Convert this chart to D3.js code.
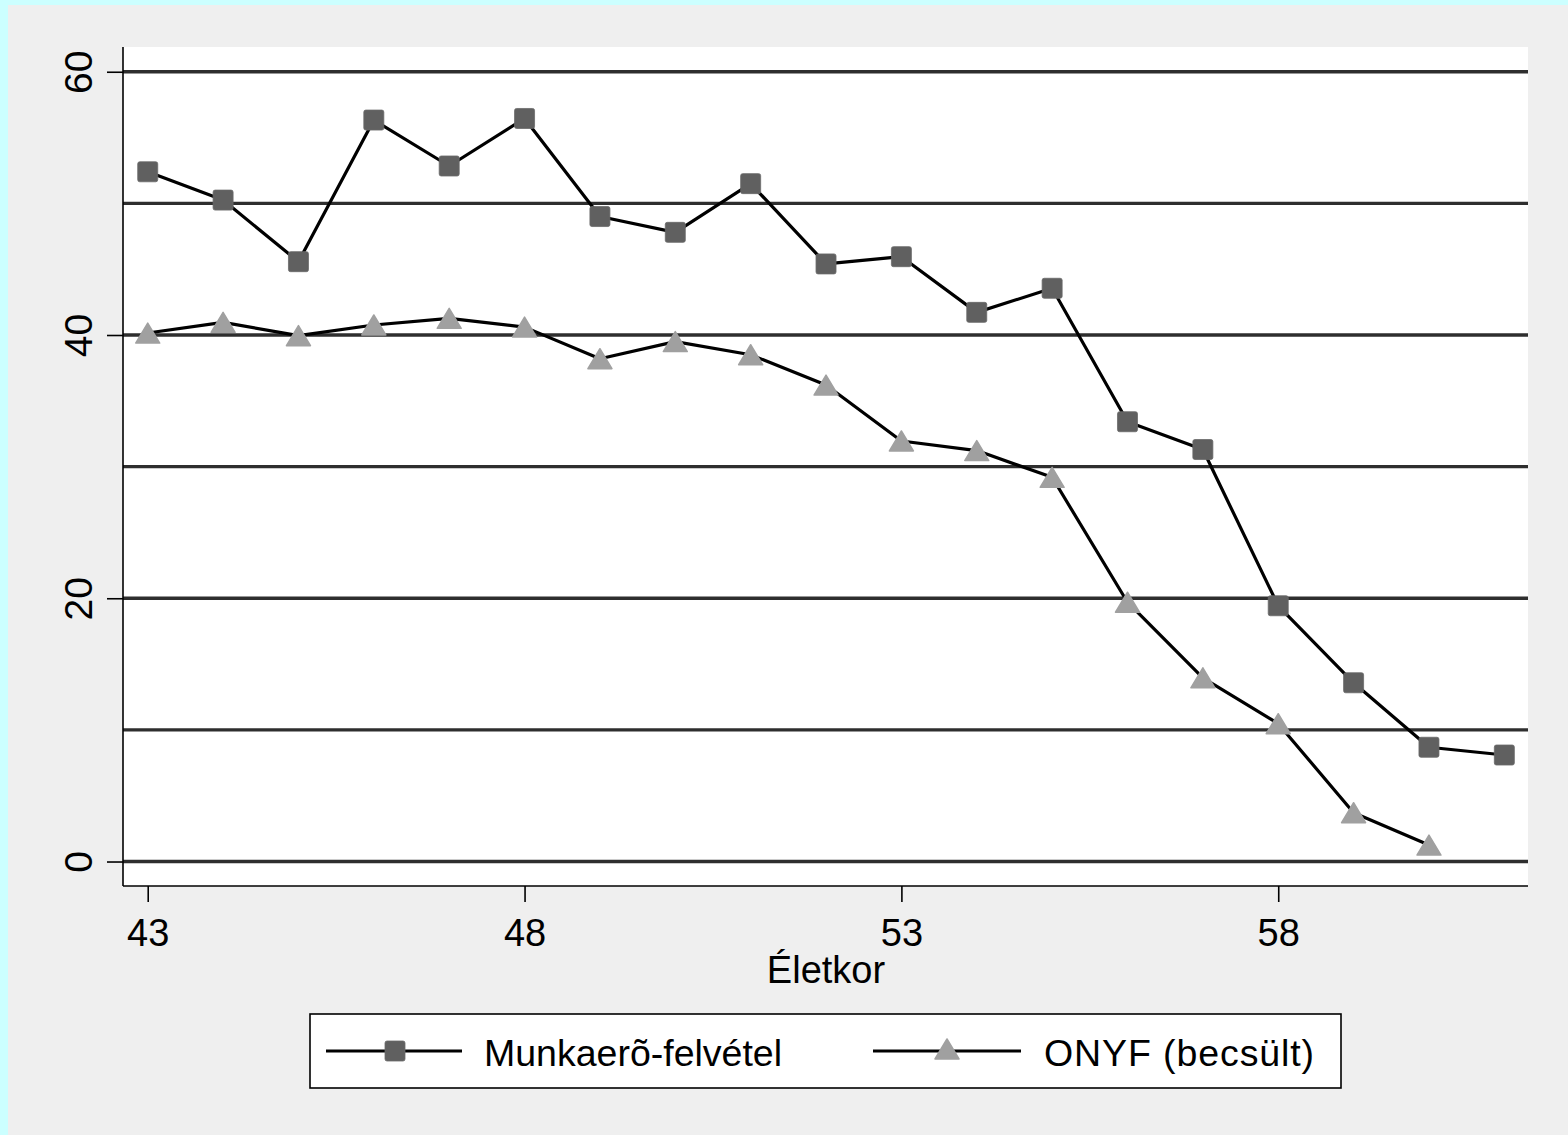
<!DOCTYPE html>
<html>
<head>
<meta charset="utf-8">
<script src="https://cdn.jsdelivr.net/npm/d3@7"></script>
<style>
  html, body { margin: 0; padding: 0; background: #ccffff; }
  svg { display: block; }
  text { font-family: "Liberation Sans", Arial, sans-serif; fill: #000; }
</style>
</head>
<body>
<script>
const ages = [43,44,45,46,47,48,49,50,51,52,53,54,55,56,57,58,59,60,61];
const munkaero = [52.4,50.25,45.57,56.33,52.84,56.45,49.0,47.8,51.5,45.4,45.95,41.72,43.55,33.41,31.3,19.43,13.58,8.68,8.09];
const onyfAges = [43,44,45,46,47,48,49,50,51,52,53,54,55,56,57,58,59,60];
const onyf = [40.15,40.96,39.95,40.76,41.27,40.6,38.2,39.5,38.5,36.2,31.95,31.22,29.19,19.7,13.96,10.47,3.71,1.25];
const xTicks = [43,48,53,58];
const yTicks = [0,20,40,60];
const gridVals = [0,10,20,30,40,50,60];
const seriesNames = ["Munkaerõ-felvétel", "ONYF (becsült)"];
const xLabel = "Életkor";

const W = 1568, H = 1135;
const svg = d3.select("body").append("svg").attr("width", W).attr("height", H);

svg.append("rect").attr("x", 0).attr("y", 0).attr("width", W).attr("height", H).attr("fill", "#ccffff");
svg.append("rect").attr("x", 8).attr("y", 5).attr("width", W - 8).attr("height", H - 5).attr("fill", "#efefef");

const L = 123, R = 1528, T = 47, B = 886;
const x = d3.scaleLinear().domain([42.672, 61.314]).range([L, R]);
const y = d3.scaleLinear().domain([-1.86, 61.88]).range([B, T]);

svg.append("rect").attr("x", L).attr("y", T).attr("width", R - L).attr("height", B - T).attr("fill", "#fff");

svg.append("g").selectAll("line").data(gridVals).join("line")
  .attr("x1", L).attr("x2", R)
  .attr("y1", d => y(d)).attr("y2", d => y(d))
  .attr("stroke", "#2e2e2e").attr("stroke-width", 3.3);

const yAxis = d3.axisLeft(y).tickValues(yTicks).tickSize(16).tickPadding(0).tickFormat(d3.format("d"));
const gy = svg.append("g").attr("transform", `translate(${L},0)`).call(yAxis);
gy.select(".domain").attr("stroke", "#000").attr("stroke-width", 1.6).attr("d", `M0,${B}V${T}`);
gy.selectAll(".tick line").attr("stroke", "#000").attr("stroke-width", 1.6);
gy.selectAll(".tick text").remove();
gy.selectAll(".tick").append("text")
  .attr("transform", "translate(-31,0) rotate(-90)")
  .attr("text-anchor", "middle")
  .style("font-size", "39px")
  .style("font-family", '"Liberation Sans", Arial, sans-serif')
  .attr("fill", "#000")
  .text(d => d);

const xAxis = d3.axisBottom(x).tickValues(xTicks).tickSize(16).tickPadding(0).tickFormat(d3.format("d"));
const gx = svg.append("g").attr("transform", `translate(0,${B})`).call(xAxis);
gx.select(".domain").attr("stroke", "#000").attr("stroke-width", 1.6).attr("d", `M${L},0H${R}`);
gx.selectAll(".tick line").attr("stroke", "#000").attr("stroke-width", 1.6);
gx.selectAll(".tick text")
  .attr("y", 60).attr("dy", 0)
  .style("font-size", "38px")
  .style("font-family", '"Liberation Sans", Arial, sans-serif')
  .attr("fill", "#000");

svg.append("text").attr("x", 826).attr("y", 983)
  .attr("text-anchor", "middle").style("font-size", "38px").text(xLabel);

const line = d3.line().x(d => x(d[0])).y(d => y(d[1]));
const d1 = ages.map((a, i) => [a, munkaero[i]]);
const d2 = onyfAges.map((a, i) => [a, onyf[i]]);

svg.append("path").datum(d1).attr("d", line).attr("fill", "none").attr("stroke", "#000").attr("stroke-width", 3.2).attr("stroke-linejoin", "round");
svg.append("path").datum(d2).attr("d", line).attr("fill", "none").attr("stroke", "#000").attr("stroke-width", 3.2).attr("stroke-linejoin", "round");

const sq = 20;
function square(g, cx, cy) {
  g.append("rect").attr("x", cx - sq / 2).attr("y", cy - sq / 2).attr("width", sq).attr("height", sq)
    .attr("rx", 2).attr("fill", "#606060").attr("stroke", "#6a6a6a").attr("stroke-width", 0.8);
}
function tri(g, cx, cy) {
  const h = 20, w = 24;
  g.append("path").attr("d", `M${cx},${cy - h / 2}L${cx + w / 2},${cy + h / 2}L${cx - w / 2},${cy + h / 2}Z`)
    .attr("fill", "#a0a0a0").attr("stroke", "#a0a0a0").attr("stroke-width", 1.5).attr("stroke-linejoin", "round");
}
const m1 = svg.append("g");
d1.forEach(d => square(m1, x(d[0]), y(d[1])));
const m2 = svg.append("g");
d2.forEach(d => tri(m2, x(d[0]), y(d[1])));

const lg = svg.append("g");
lg.append("rect").attr("x", 310).attr("y", 1014).attr("width", 1031).attr("height", 74)
  .attr("fill", "#fff").attr("stroke", "#000").attr("stroke-width", 1.6);
const ly = 1051;
lg.append("line").attr("x1", 326).attr("x2", 462).attr("y1", ly).attr("y2", ly).attr("stroke", "#000").attr("stroke-width", 3.2);
square(lg, 395, ly);
lg.append("text").attr("x", 484).attr("y", 1066).style("font-size", "37.5px").text(seriesNames[0]);
lg.append("line").attr("x1", 873).attr("x2", 1021).attr("y1", ly).attr("y2", ly).attr("stroke", "#000").attr("stroke-width", 3.2);
tri(lg, 947, ly - 2);
lg.append("text").attr("x", 1044).attr("y", 1066).style("font-size", "37.5px").style("letter-spacing", "0.9px").text(seriesNames[1]);
</script>
</body>
</html>
